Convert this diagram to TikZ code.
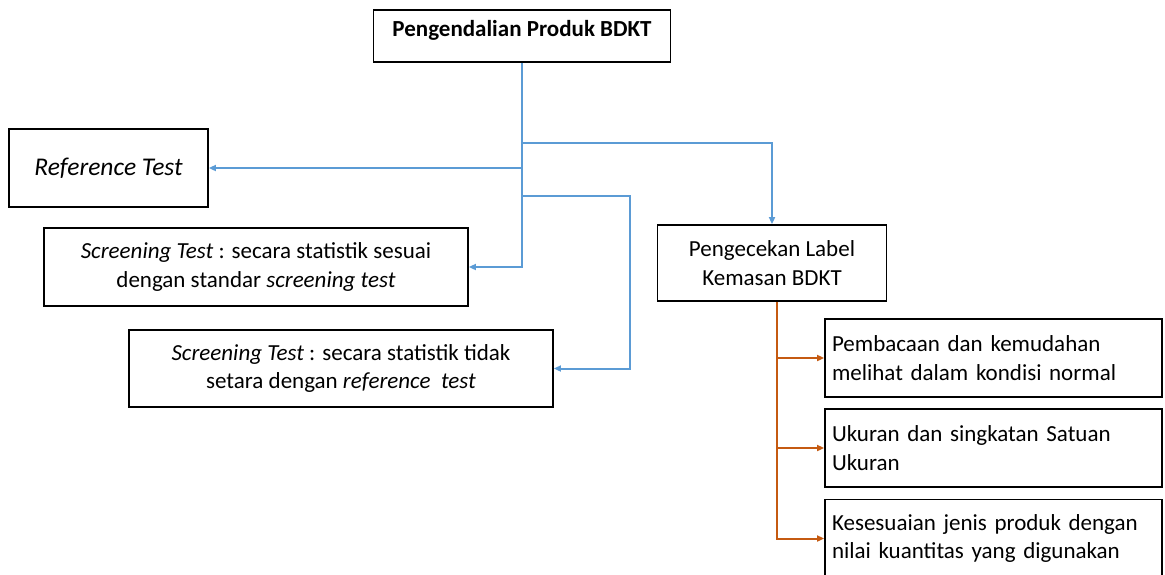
\documentclass[tikz,border=0pt]{standalone}
\usepackage{fontspec}
\setmainfont{Carlito}
\usetikzlibrary{arrows.meta}
\definecolor{lnblue}{RGB}{91,155,213}
\definecolor{lnorange}{RGB}{197,90,17}
\tikzset{
  box/.style={draw=black, line width=1.8pt, inner sep=0pt, font=\fontsize{23}{28.5}\selectfont},
  bline/.style={draw=lnblue, line width=2pt},
  oline/.style={draw=lnorange, line width=2pt},
  tip/.style={-{Triangle[length=7pt,width=6pt]}},
}
\begin{document}
\begin{tikzpicture}[x=1pt,y=-1pt]
\useasboundingbox (0,0) rectangle (1165,574);
% boxes
\node[box, minimum width=297pt, minimum height=52pt] (top) at (522,36) {};
\node[font=\fontsize{23}{28}\selectfont\bfseries, inner sep=0pt] (toptext) at (522,30) {Pengendalian Produk BDKT};
\node[box, minimum width=199pt, minimum height=78pt, font=\fontsize{25.5}{30}\selectfont\itshape] (ref) at (108.5,168) {Reference Test};
\node[box, minimum width=424pt, minimum height=78pt, align=center] (s1) at (256,267)
  {\textit{Screening Test} : secara statistik sesuai\\dengan standar \textit{screening test}};
\node[box, minimum width=424pt, minimum height=77pt, align=center] (s2) at (341,368.5)
  {\textit{Screening Test} : secara statistik tidak\\setara dengan \textit{reference\ \ test}};
\node[box, minimum width=229pt, minimum height=76pt, align=center] (peng) at (772,263)
  {Pengecekan Label\\Kemasan BDKT};
\node[box, minimum width=337pt, minimum height=78pt, text width=323pt, align=left] (r1) at (993.5,358)
  {Pembacaan dan kemudahan\\melihat dalam kondisi normal};
\node[box, minimum width=337pt, minimum height=78pt, text width=323pt, align=left] (r2) at (993.5,448)
  {Ukuran dan singkatan Satuan\\Ukuran};
\node[box, minimum width=337pt, minimum height=78pt, text width=323pt, align=left] (r3) at (993.5,538.5)
  {Kesesuaian jenis produk dengan\\nilai kuantitas yang digunakan};
% blue connectors
\coordinate (jR) at (522,143);
\coordinate (jL) at (522,196);
\coordinate (bend) at (630,196);
\draw[bline, tip] (top.south) |- (s1.east);
\draw[bline, tip] (ref.east -| top.south) -- (ref.east);
\draw[bline, tip] (jR) -| (peng.north);
\draw[bline, tip] (jL) -- (bend) |- (s2.east);
% orange connectors
\coordinate (otop) at ([xshift=5pt]peng.south);
\draw[oline, tip] (otop) |- (r3.west);
\draw[oline, tip] (otop |- r1.west) -- (r1.west);
\draw[oline, tip] (otop |- r2.west) -- (r2.west);
\end{tikzpicture}
\end{document}
